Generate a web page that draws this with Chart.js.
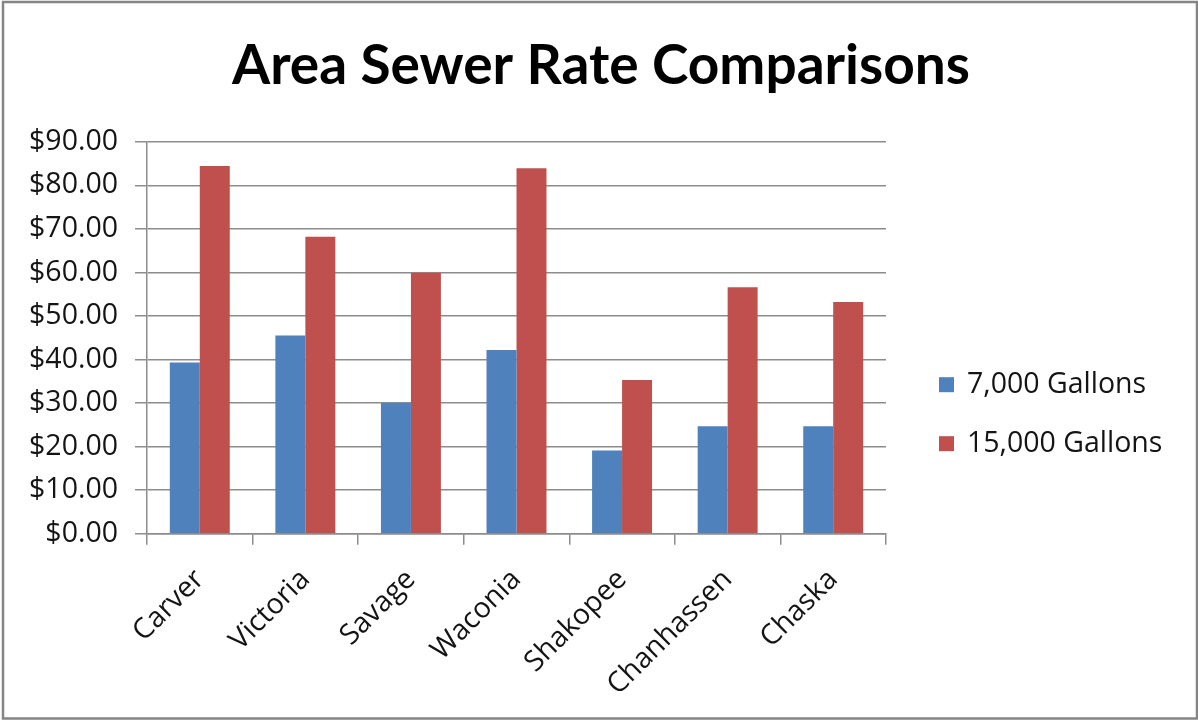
<!DOCTYPE html>
<html>
<head>
<meta charset="utf-8">
<title>Area Sewer Rate Comparisons</title>
<script src="https://cdn.jsdelivr.net/npm/chart.js@4.4.1/dist/chart.umd.min.js"></script>
<style>
  html, body { margin: 0; padding: 0; background: #ffffff; }
  canvas { display: block; }
</style>
</head>
<body>
<canvas id="chart" width="1198" height="721"></canvas>
<script>
// Monthly sewer charges by city, for two usage levels
const chartTitle = 'Area Sewer Rate Comparisons';
const cities = ['Carver', 'Victoria', 'Savage', 'Waconia', 'Shakopee', 'Chanhassen', 'Chaska'];
const seriesNames = ['7,000 Gallons', '15,000 Gallons'];
const rates7000 = [39.3, 45.5, 30.0, 42.2, 19.1, 24.7, 24.7];
const rates15000 = [84.4, 68.2, 59.9, 83.9, 35.3, 56.6, 53.2];
const axisMin = 0;
const axisMax = 90;
const axisStep = 10;

const BLUE = '#4F81BD';
const RED = '#C0504D';
const GRID = '#8c8c8c';
const TEXT = '#141414';
const LABEL_FONT = { family: '"Open Sans", "Noto Sans", sans-serif', size: 28.5 };

// Legend drawn in the space reserved on the right of the plot
const sideLegend = {
  id: 'sideLegend',
  afterDraw(chart) {
    const { ctx, chartArea } = chart;
    ctx.save();
    ctx.font = `${LABEL_FONT.size}px ${LABEL_FONT.family}`;
    ctx.textBaseline = 'middle';
    ctx.textAlign = 'left';
    chart.data.datasets.forEach((ds, i) => {
      const cy = chartArea.top + 243 + i * 59;
      const bx = chartArea.right + 53;
      ctx.fillStyle = ds.backgroundColor;
      ctx.fillRect(bx, cy - 7.5, 15, 15);
      ctx.fillStyle = TEXT;
      ctx.fillText(ds.label, bx + 28, cy);
    });
    ctx.restore();
  }
};

// White page with a thin grey frame
const frame = {
  id: 'frame',
  beforeDraw(chart) {
    const { ctx, width, height } = chart;
    ctx.save();
    ctx.fillStyle = '#ffffff';
    ctx.fillRect(0, 0, width, height);
    ctx.restore();
  },
  afterDraw(chart) {
    const { ctx } = chart;
    ctx.save();
    ctx.strokeStyle = '#858585';
    ctx.lineWidth = 2.5;
    ctx.strokeRect(3, 2, 1194, 716.5);
    ctx.restore();
  }
};

new Chart(document.getElementById('chart'), {
  type: 'bar',
  data: {
    labels: cities,
    datasets: [
      { label: seriesNames[0], data: rates7000, backgroundColor: BLUE, borderWidth: 0 },
      { label: seriesNames[1], data: rates15000, backgroundColor: RED, borderWidth: 0 }
    ]
  },
  options: {
    responsive: false,
    animation: false,
    devicePixelRatio: 1,
    categoryPercentage: 0.568,
    barPercentage: 1.0,
    layout: { padding: { left: 4, right: 0, top: 0, bottom: 1 } },
    plugins: {
      legend: { display: false },
      tooltip: { enabled: false },
      title: {
        display: true,
        text: chartTitle,
        color: '#000000',
        font: { family: 'Lato, "Open Sans", sans-serif', size: 55, weight: 'bold' },
        padding: { top: 33, bottom: 42.7 }
      }
    },
    scales: {
      x: {
        grid: {
          display: true,
          drawOnChartArea: false,
          drawTicks: true,
          tickLength: 11,
          tickColor: GRID,
          lineWidth: 1.5,
          offset: true
        },
        border: { display: true, color: GRID, width: 1.5 },
        ticks: {
          color: TEXT,
          font: LABEL_FONT,
          minRotation: 45,
          maxRotation: 45,
          padding: 18,
          autoSkip: false
        }
      },
      y: {
        min: axisMin,
        max: axisMax,
        afterFit(scale) { scale.width = 143; },
        grid: {
          color: GRID,
          lineWidth: 1.5,
          drawTicks: true,
          tickLength: 12,
          tickColor: GRID
        },
        border: { display: true, color: GRID, width: 1.5 },
        ticks: {
          stepSize: axisStep,
          color: TEXT,
          font: LABEL_FONT,
          padding: 17,
          callback: (v) => '$' + Number(v).toFixed(2)
        }
      },
      legendSpace: {
        type: 'linear',
        position: 'right',
        display: true,
        afterFit(scale) { scale.width = 312; },
        grid: { display: false, drawTicks: false },
        border: { display: false },
        ticks: { display: false }
      }
    }
  },
  plugins: [frame, sideLegend]
});
</script>
</body>
</html>
